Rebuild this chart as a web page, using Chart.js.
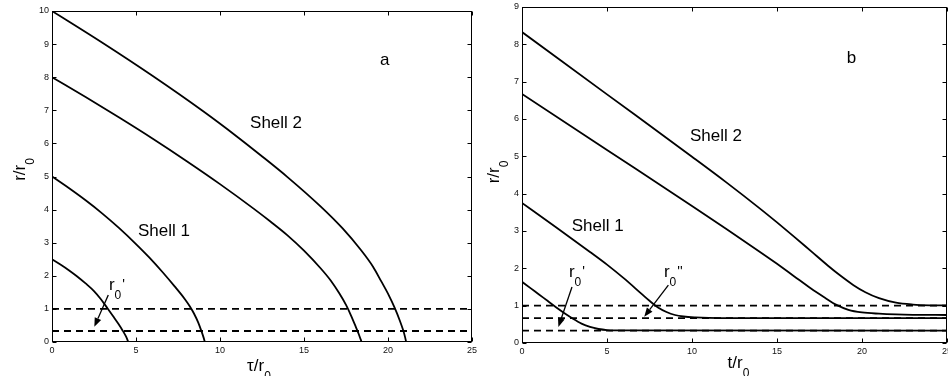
<!DOCTYPE html>
<html>
<head>
<meta charset="utf-8">
<script src="https://cdn.jsdelivr.net/npm/chart.js@4.4.0/dist/chart.umd.min.js"></script>
<style>
  html, body { margin: 0; padding: 0; background: #fff; }
  body { width: 948px; height: 376px; position: relative; overflow: hidden; }
  canvas { position: absolute; top: 0; }
  #chartA { left: 0; }
  #chartB { left: 474px; }
</style>
</head>
<body>
<canvas id="chartA" width="490" height="376"></canvas>
<canvas id="chartB" width="474" height="376"></canvas>
<script>
// tick labels
var tTicks = [0, 5, 10, 15, 20, 25];
var rTicksA = [0, 1, 2, 3, 4, 5, 6, 7, 8, 9, 10];
var rTicksB = [0, 1, 2, 3, 4, 5, 6, 7, 8, 9];

// panel a  (tau/r0 , r/r0)
var aShell1In_t = [0, 0.5, 1.0, 1.5, 2.0, 2.5, 2.9, 3.3, 3.65, 3.95, 4.2, 4.38, 4.48, 4.54];
var aShell1In_r = [2.5, 2.34, 2.17, 1.98, 1.77, 1.54, 1.3, 1.02, 0.77, 0.55, 0.35, 0.19, 0.08, 0];
var aShell1Out_t = [0, 1, 2, 3, 4, 5, 5.8, 6.6, 7.3, 7.9, 8.2, 8.45, 8.7, 8.9, 9.02, 9.1];
var aShell1Out_r = [5, 4.65, 4.28, 3.88, 3.44, 2.96, 2.55, 2.1, 1.68, 1.3, 1.08, 0.86, 0.59, 0.32, 0.14, 0];
var aShell2In_t = [0, 2, 4, 6, 8, 10, 12, 13, 14, 15, 16, 16.6, 17.1, 17.5, 17.8, 18.05, 18.25, 18.38, 18.43];
var aShell2In_r = [8, 7.4, 6.78, 6.14, 5.47, 4.77, 4.03, 3.64, 3.23, 2.76, 2.22, 1.85, 1.47, 1.12, 0.8, 0.5, 0.25, 0.07, 0];
var aShell2Out_t = [0, 3, 6, 9, 11, 12.4, 14, 16, 17.3, 18.4, 19.1, 19.6, 20.05, 20.4, 20.7, 20.9, 21.02, 21.08];
var aShell2Out_r = [10, 9.04, 8.035, 6.97, 6.21, 5.65, 4.99, 4.09, 3.43, 2.77, 2.28, 1.83, 1.41, 1.03, 0.65, 0.36, 0.14, 0];
var aLevels = [1, 0.333];

// panel b  (t/r0 , r/r0)
var bShell1In_t = [0, 0.5, 1, 1.5, 2, 2.5, 3, 3.5, 4, 4.5, 5, 6, 25];
var bShell1In_r = [1.64, 1.47, 1.3, 1.13, 0.96, 0.8, 0.65, 0.52, 0.43, 0.375, 0.347, 0.336, 0.333];
var bShell1Out_t = [0, 2, 4, 5, 6, 7, 7.5, 8, 8.5, 9, 9.5, 10.2, 11, 12.5, 25];
var bShell1Out_r = [3.75, 3.1, 2.44, 2.1, 1.73, 1.33, 1.13, 0.95, 0.83, 0.75, 0.71, 0.685, 0.672, 0.667, 0.667];
var bShell2In_t = [0, 5, 10, 12, 14, 15, 16, 17, 17.8, 18.5, 19.2, 20, 21, 22, 23, 25];
var bShell2In_r = [6.67, 5.17, 3.67, 3.06, 2.44, 2.12, 1.79, 1.46, 1.22, 1.02, 0.89, 0.82, 0.785, 0.765, 0.755, 0.75];
var bShell2Out_t = [0, 5, 10, 12, 14, 15, 16, 17, 18, 18.8, 19.5, 20.2, 21, 22, 23, 24, 25];
var bShell2Out_r = [8.33, 6.66, 4.99, 4.31, 3.6, 3.23, 2.85, 2.46, 2.07, 1.78, 1.55, 1.36, 1.2, 1.08, 1.03, 1.01, 1.005];
var bLevels = [1, 0.667, 0.333];

var FONT = "'Liberation Sans', Arial, Helvetica, sans-serif";

function pts(xs, ys) {
    return xs.map(function (x, i) { return { x: x, y: ys[i] }; });
}

function curve(xs, ys) {
    return {
        data: pts(xs, ys), showLine: true, borderColor: '#000', borderWidth: 1.8,
        pointRadius: 0, cubicInterpolationMode: 'monotone', fill: false
    };
}

function level(v) {
    return {
        data: [{ x: tTicks[0], y: v }, { x: tTicks[tTicks.length - 1], y: v }],
        showLine: true, borderColor: '#000', borderWidth: 1.8, borderDash: [7, 5],
        pointRadius: 0, fill: false
    };
}

// labels and arrows, placed in data units of each panel
var notes = {
    chartA: {
        xTitle: 'τ/r', xDx: -3, xDy: 29, yDx: -27, yDy: -7,
        texts: [['Shell 2', 11.79, 6.47], ['a', 19.52, 8.37], ['Shell 1', 5.12, 3.2]],
        r0: [[3.39, 1.57, "'"]],
        arrows: [[3.35, 1.42, 2.52, 0.46]]
    },
    chartB: {
        xTitle: 't/r', xDx: 4, xDy: 25, yDx: -23, yDy: -3,
        texts: [['Shell 2', 9.88, 5.4], ['b', 19.1, 7.49], ['Shell 1', 2.92, 3.01]],
        r0: [[2.76, 1.77, "'"], [8.35, 1.77, "''"]],
        arrows: [[2.94, 1.5, 2.14, 0.43], [8.61, 1.55, 7.19, 0.70]]
    }
};

function drawArrow(ctx, x1, y1, x2, y2) {
    var ang = Math.atan2(y2 - y1, x2 - x1), L = 9, W = 3.5;
    var bx = x2 - L * Math.cos(ang), by = y2 - L * Math.sin(ang);
    ctx.beginPath();
    ctx.moveTo(x1, y1);
    ctx.lineTo(bx, by);
    ctx.stroke();
    ctx.beginPath();
    ctx.moveTo(x2, y2);
    ctx.lineTo(bx + W * Math.sin(ang), by - W * Math.cos(ang));
    ctx.lineTo(bx - W * Math.sin(ang), by + W * Math.cos(ang));
    ctx.closePath();
    ctx.fill();
}

var framePlugin = {
    id: 'frame',
    afterDraw: function (chart) {
        var ctx = chart.ctx, a = chart.chartArea, sx = chart.scales.x, sy = chart.scales.y;
        var n = notes[chart.canvas.id];
        var L = Math.round(a.left) + 0.5, R = Math.round(a.right) - 0.5;
        var T = Math.round(a.top) + 0.5, B = Math.round(a.bottom) - 0.5;
        ctx.save();
        ctx.strokeStyle = '#000';
        ctx.fillStyle = '#000';
        ctx.lineWidth = 1;
        ctx.strokeRect(L, T, R - L, B - T);
        ctx.beginPath();
        sx.ticks.forEach(function (t) {
            var p = Math.round(sx.getPixelForValue(t.value)) + 0.5;
            ctx.moveTo(p, B); ctx.lineTo(p, B - 4);
            ctx.moveTo(p, T); ctx.lineTo(p, T + 4);
        });
        sy.ticks.forEach(function (t) {
            var p = Math.round(sy.getPixelForValue(t.value)) + 0.5;
            ctx.moveTo(L, p); ctx.lineTo(L + 4, p);
            ctx.moveTo(R, p); ctx.lineTo(R - 4, p);
        });
        ctx.stroke();

        ctx.textBaseline = 'alphabetic';
        ctx.textAlign = 'left';
        ctx.font = '17px ' + FONT;
        n.texts.forEach(function (t) {
            ctx.fillText(t[0], sx.getPixelForValue(t[1]), sy.getPixelForValue(t[2]));
        });
        n.r0.forEach(function (t) {
            var x = sx.getPixelForValue(t[0]), y = sy.getPixelForValue(t[1]);
            ctx.font = '17px ' + FONT;
            ctx.fillText('r', x, y);
            var w = ctx.measureText('r').width;
            ctx.font = '12px ' + FONT;
            ctx.fillText('0', x + w, y + 9);
            var w2 = ctx.measureText('0').width;
            ctx.font = '14px ' + FONT;
            ctx.fillText(t[2], x + w + w2 + 1, y - 1);
        });
        ctx.lineWidth = 1.3;
        n.arrows.forEach(function (t) {
            drawArrow(ctx, sx.getPixelForValue(t[0]), sy.getPixelForValue(t[1]),
                sx.getPixelForValue(t[2]), sy.getPixelForValue(t[3]));
        });

        // x title with subscript
        ctx.font = '17px ' + FONT;
        var wb = ctx.measureText(n.xTitle).width;
        ctx.font = '12px ' + FONT;
        var ws = ctx.measureText('0').width;
        var cx = (a.left + a.right) / 2 + n.xDx - (wb + ws) / 2;
        var by = a.bottom + n.xDy;
        ctx.font = '17px ' + FONT;
        ctx.fillText(n.xTitle, cx, by);
        ctx.font = '12px ' + FONT;
        ctx.fillText('0', cx + wb, by + 8.6);

        // y title, rotated
        ctx.font = '17px ' + FONT;
        var wy = ctx.measureText('r/r').width;
        ctx.translate(a.left + n.yDx, (a.top + a.bottom) / 2 + n.yDy);
        ctx.rotate(-Math.PI / 2);
        ctx.fillText('r/r', -(wy + ws) / 2, 0);
        ctx.font = '12px ' + FONT;
        ctx.fillText('0', -(wy + ws) / 2 + wy, 8.6);
        ctx.restore();
    }
};

function makeChart(id, datasets, yTicks, pad, yw, xh) {
    return new Chart(document.getElementById(id).getContext('2d'), {
        type: 'scatter',
        data: { datasets: datasets },
        options: {
            responsive: false,
            animation: false,
            layout: { padding: pad },
            plugins: { legend: { display: false }, tooltip: { enabled: false } },
            scales: {
                x: {
                    type: 'linear', min: tTicks[0], max: tTicks[tTicks.length - 1],
                    afterBuildTicks: function (s) { s.ticks = tTicks.map(function (v) { return { value: v }; }); },
                    ticks: { font: { family: FONT, size: 9 }, color: '#111', padding: 3, maxRotation: 0, autoSkip: false },
                    grid: { display: false, drawTicks: false },
                    border: { display: false },
                    afterFit: function (s) { s.height = xh; s.paddingLeft = 0; s.paddingRight = 0; }
                },
                y: {
                    type: 'linear', min: yTicks[0], max: yTicks[yTicks.length - 1],
                    afterBuildTicks: function (s) { s.ticks = yTicks.map(function (v) { return { value: v }; }); },
                    ticks: { font: { family: FONT, size: 9 }, color: '#111', padding: 3, autoSkip: false },
                    grid: { display: false, drawTicks: false },
                    border: { display: false },
                    afterFit: function (s) { s.width = yw; s.paddingTop = 0; s.paddingBottom = 0; }
                }
            }
        },
        plugins: [framePlugin]
    });
}

var chartA = makeChart('chartA',
    aLevels.map(level).concat([
        curve(aShell1In_t, aShell1In_r),
        curve(aShell1Out_t, aShell1Out_r),
        curve(aShell2In_t, aShell2In_r),
        curve(aShell2Out_t, aShell2Out_r)
    ]),
    rTicksA, { left: 0, right: 18, top: 11, bottom: 0 }, 52, 34);

var chartB = makeChart('chartB',
    bLevels.map(level).concat([
        curve(bShell1In_t, bShell1In_r),
        curve(bShell1Out_t, bShell1Out_r),
        curve(bShell2In_t, bShell2In_r),
        curve(bShell2Out_t, bShell2Out_r)
    ]),
    rTicksB, { left: 0, right: 1, top: 7, bottom: 0 }, 48, 33);
</script>
</body>
</html>
